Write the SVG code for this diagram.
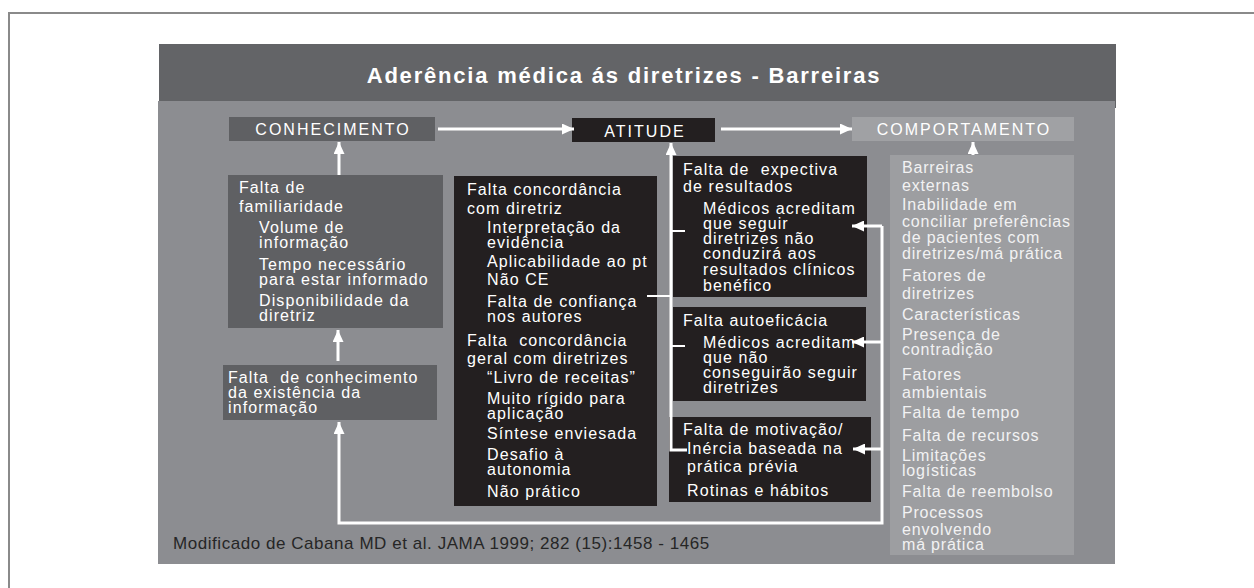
<svg xmlns="http://www.w3.org/2000/svg" width="1254" height="588" viewBox="0 0 1254 588">
<style>
.t{font-family:"Liberation Sans",Arial,Helvetica,sans-serif;font-size:16px;fill:#fff;letter-spacing:1.1px;white-space:pre}
.cap{letter-spacing:2px}
.title{font-size:22px;font-weight:bold;letter-spacing:1.8px}
.lt{fill:#f2f2f3;letter-spacing:0.8px}
.credit{fill:#262626;font-size:17px;letter-spacing:0.55px}
.dk{fill:#5f6063}
.bk{fill:#231f20}
.lg{fill:#9d9ea1}
.conn{stroke:#fff;stroke-width:3;fill:none}
.thin{stroke-width:2}
</style>
<defs>
<marker id="ah" markerUnits="userSpaceOnUse" markerWidth="13" markerHeight="11" refX="12" refY="5.5" orient="auto">
<path d="M0,0 L12,5.5 L0,11 z" fill="#fff"/>
</marker>
</defs>
<rect x="0" y="0" width="1254" height="588" fill="#fff"/>
<path d="M9,600 L9,13 L1254,13" stroke="#8a8a8a" stroke-width="2" fill="none"/>
<g id="panel">
<rect x="159" y="44" width="957" height="64" fill="#636467"/>
<rect x="158" y="101" width="957" height="463" fill="#8c8d91"/>
<text class="t title" x="624" y="83" text-anchor="middle">Aderência médica ás diretrizes - Barreiras</text>
</g>
<g id="conhecimento">
<rect class="dk" x="229" y="117" width="206" height="24"/>
<text class="t cap" x="333" y="135" text-anchor="middle">CONHECIMENTO</text>
</g>
<g id="atitude">
<rect class="bk" x="572" y="118" width="143" height="24"/>
<text class="t cap" x="645" y="137" text-anchor="middle">ATITUDE</text>
</g>
<g id="comportamento">
<rect fill="#a0a1a4" x="852" y="117" width="222" height="24"/>
<text class="t cap" x="964" y="135" text-anchor="middle">COMPORTAMENTO</text>
</g>
<g id="familiaridade">
<rect class="dk" x="228" y="175" width="215" height="153"/>
<text class="t" x="239" y="193">Falta de</text>
<text class="t" x="239" y="212">familiaridade</text>
<text class="t" x="259" y="233">Volume de</text>
<text class="t" x="259" y="248">informação</text>
<text class="t" x="259" y="270">Tempo necessário</text>
<text class="t" x="259" y="285">para estar informado</text>
<text class="t" x="259" y="306">Disponibilidade da</text>
<text class="t" x="259" y="321">diretriz</text>
</g>
<g id="conhecimento-existencia">
<rect class="dk" x="223" y="365" width="214" height="55"/>
<text class="t" x="228" y="383">Falta  de conhecimento</text>
<text class="t" x="228" y="398">da existência da</text>
<text class="t" x="228" y="413">informação</text>
</g>
<g id="concordancia">
<rect class="bk" x="454" y="176" width="203" height="330"/>
<text class="t" x="467" y="195">Falta concordância</text>
<text class="t" x="467" y="214">com diretriz</text>
<text class="t" x="487" y="233">Interpretação da</text>
<text class="t" x="487" y="248">evidência</text>
<text class="t" x="487" y="267">Aplicabilidade ao pt</text>
<text class="t" x="487" y="285">Não CE</text>
<text class="t" x="487" y="307">Falta de confiança</text>
<text class="t" x="487" y="322">nos autores</text>
<text class="t" x="467" y="346">Falta  concordância</text>
<text class="t" x="467" y="364">geral com diretrizes</text>
<text class="t" x="487" y="383">“Livro de receitas”</text>
<text class="t" x="487" y="404">Muito rígido para</text>
<text class="t" x="487" y="419">aplicação</text>
<text class="t" x="487" y="439">Síntese enviesada</text>
<text class="t" x="487" y="460">Desafio à</text>
<text class="t" x="487" y="475">autonomia</text>
<text class="t" x="487" y="497">Não prático</text>
</g>
<g id="expectativa">
<rect class="bk" x="673" y="156" width="194" height="141"/>
<text class="t" x="683" y="175">Falta de  expectiva</text>
<text class="t" x="683" y="192">de resultados</text>
<text class="t" x="703" y="214">Médicos acreditam</text>
<text class="t" x="703" y="229">que seguir</text>
<text class="t" x="703" y="244">diretrizes não</text>
<text class="t" x="703" y="259">conduzirá aos</text>
<text class="t" x="703" y="275">resultados clínicos</text>
<text class="t" x="703" y="291">benéfico</text>
</g>
<g id="autoeficacia">
<rect class="bk" x="673" y="307" width="193" height="94"/>
<text class="t" x="683" y="326">Falta autoeficácia</text>
<text class="t" x="703" y="348">Médicos acreditam</text>
<text class="t" x="703" y="363">que não</text>
<text class="t" x="703" y="378">conseguirão seguir</text>
<text class="t" x="703" y="393">diretrizes</text>
</g>
<g id="motivacao">
<rect class="bk" x="669" y="417" width="202" height="85"/>
<text class="t" x="683" y="435">Falta de motivação/</text>
<text class="t" x="687" y="454">Inércia baseada na</text>
<text class="t" x="687" y="472">prática prévia</text>
<text class="t" x="687" y="496">Rotinas e hábitos</text>
</g>
<g id="barreiras-externas">
<rect class="lg" x="890" y="155" width="184" height="400"/>
<text class="t lt" x="902" y="173">Barreiras</text>
<text class="t lt" x="902" y="191">externas</text>
<text class="t lt" x="902" y="210">Inabilidade em</text>
<text class="t lt" x="902" y="227">conciliar preferências</text>
<text class="t lt" x="902" y="243">de pacientes com</text>
<text class="t lt" x="902" y="259">diretrizes/má prática</text>
<text class="t lt" x="902" y="281">Fatores de</text>
<text class="t lt" x="902" y="299">diretrizes</text>
<text class="t lt" x="902" y="320">Características</text>
<text class="t lt" x="902" y="340">Presença de</text>
<text class="t lt" x="902" y="355">contradição</text>
<text class="t lt" x="902" y="380">Fatores</text>
<text class="t lt" x="902" y="398">ambientais</text>
<text class="t lt" x="902" y="418">Falta de tempo</text>
<text class="t lt" x="902" y="441">Falta de recursos</text>
<text class="t lt" x="902" y="461">Limitações</text>
<text class="t lt" x="902" y="476">logísticas</text>
<text class="t lt" x="902" y="497">Falta de reembolso</text>
<text class="t lt" x="902" y="518">Processos</text>
<text class="t lt" x="902" y="535">envolvendo</text>
<text class="t lt" x="902" y="550">má prática</text>
</g>
<g id="credit">
<text class="t credit" x="173" y="549">Modificado de Cabana MD et al. JAMA 1999; 282 (15):1458 - 1465</text>
</g>
<g id="connectors">
<line class="conn" x1="438" y1="129" x2="574" y2="129" marker-end="url(#ah)"/>
<line class="conn" x1="721" y1="129" x2="852" y2="129" marker-end="url(#ah)"/>
<line class="conn" x1="339" y1="175" x2="339" y2="142" marker-end="url(#ah)"/>
<line class="conn" x1="338" y1="361" x2="338" y2="330" marker-end="url(#ah)"/>
<line class="conn" x1="973" y1="155" x2="973" y2="142" marker-end="url(#ah)"/>
<path class="conn" d="M687,450 L671,450 L671,143" marker-end="url(#ah)"/>
<line class="conn thin" x1="647" y1="296" x2="671" y2="296"/>
<line class="conn thin" x1="671" y1="231" x2="685" y2="231"/>
<line class="conn thin" x1="671" y1="346" x2="685" y2="346"/>
<path class="conn" d="M882,226 L882,523 L339,523 L339,422" marker-end="url(#ah)"/>
<line class="conn" x1="882" y1="226" x2="852" y2="226" marker-end="url(#ah)"/>
<line class="conn" x1="882" y1="342" x2="852" y2="342" marker-end="url(#ah)"/>
<line class="conn" x1="882" y1="449" x2="853" y2="449" marker-end="url(#ah)"/>
</g>
</svg>
